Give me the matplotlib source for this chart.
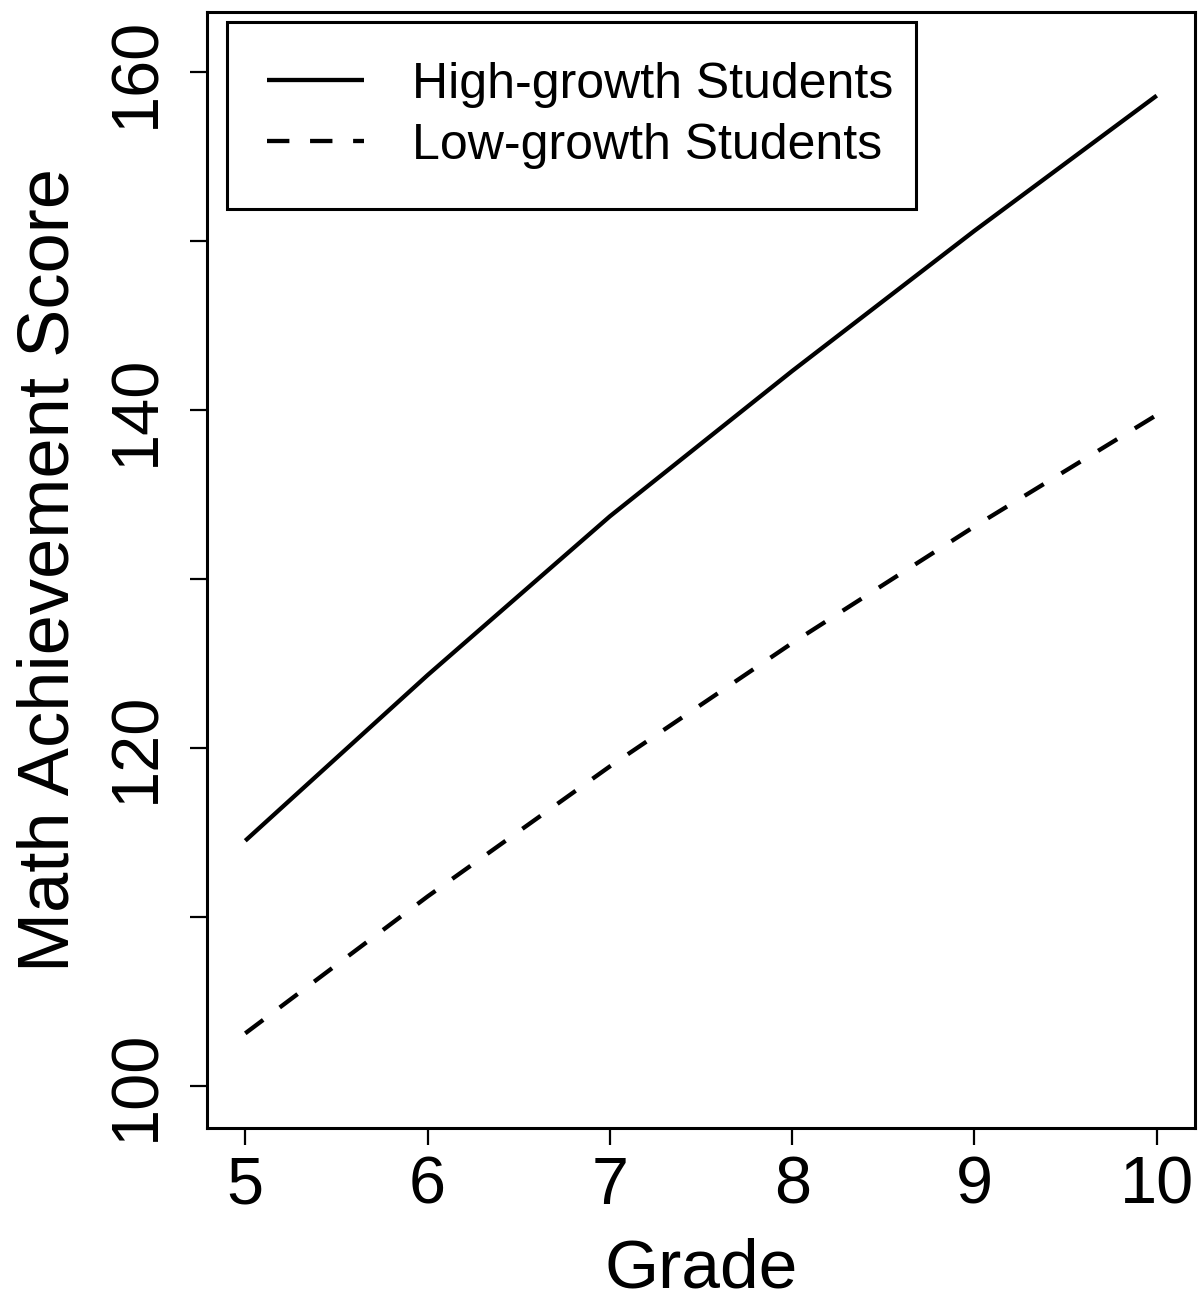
import numpy as np
import matplotlib.pyplot as plt

plt.rcParams['font.family'] = ['Liberation Sans', 'DejaVu Sans']

# values
grades = [5, 6, 7, 8, 9, 10]
high_growth = [114.5, 124.3, 133.7, 142.3, 150.6, 158.6]
low_growth = [103.1, 111.2, 118.9, 126.2, 133.1, 139.7]
series_labels = ["High-growth Students", "Low-growth Students"]
y_ticks = [100, 110, 120, 130, 140, 150, 160]
y_ticklabels = ["100", "", "120", "", "140", "", "160"]

fig = plt.figure(figsize=(12.02, 13.04), dpi=100)
ax = fig.add_axes([0.1722, 0.135, 0.822, 0.8558])

ax.plot(grades, high_growth, color='black', lw=3.1, solid_capstyle='butt',
        solid_joinstyle='round', label=series_labels[0])
ax.plot(grades, low_growth, color='black', lw=3.1, linestyle=(0, (5.2, 4.8)),
        dash_capstyle='butt', label=series_labels[1])

ax.set_xlim(4.79, 10.21)
ax.set_ylim(97.5, 163.55)
ax.set_xticks(grades)
ax.set_yticks(y_ticks)
ax.set_yticklabels(y_ticklabels, rotation=90, va='center')

ax.tick_params(axis='both', direction='out', length=12, width=1.6, labelsize=48)
ax.tick_params(axis='x', pad=8)
ax.tick_params(axis='y', pad=16)
for s in ax.spines.values():
    s.set_linewidth(2.2)

ax.set_xlabel("Grade", fontsize=50, labelpad=14)
ax.set_ylabel("Math Achievement Score", fontsize=52, labelpad=16)

leg = ax.legend(loc='upper left', bbox_to_anchor=(0.0202, 0.8244, 0.6974, 0.1669),
                mode='expand', borderaxespad=0, fontsize=36, frameon=True,
                fancybox=False, framealpha=1, edgecolor='black',
                handlelength=1.95, handletextpad=0.96, borderpad=0.8,
                labelspacing=0.3)
leg.get_frame().set_linewidth(2.2)

fig.savefig("out.png", dpi=100)
